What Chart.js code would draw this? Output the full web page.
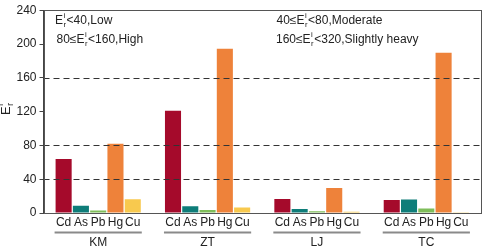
<!DOCTYPE html>
<html lang="en">
  <head>
    <meta charset="UTF-8" />
    <title>Ecological risk index</title>
    <style>
      body { margin: 0; padding: 0; background: #fff; }
      #wrap { width: 484px; height: 248px; }
    </style>
  </head>
  <body>
    <div id="wrap"><canvas id="riskChart" width="484" height="248"></canvas></div>
    <script src="https://cdn.jsdelivr.net/npm/chart.js"></script>
    <script>
      const sites = ["KM", "ZT", "LJ", "TC"];
      const elements = ["Cd", "As", "Pb", "Hg", "Cu"];
      const cdVals = [64, 121, 16.7, 15.5];
      const asVals = [8.5, 8, 4.7, 16];
      const pbVals = [3, 3.5, 2, 5.4];
      const hgVals = [82, 194.5, 29.5, 189.5];
      const cuVals = [16.3, 6.5, 1.5, 0.8];
      const colors = ["#A50A2B", "#0E7D79", "#7FBD5A", "#EE823A", "#F8C94E"];
      const refLines = [40, 80, 160];
      // [prefix, suffix] around the E_r^i symbol
      const notes = [
        ["", "<40,Low"],
        ["40≤", "<80,Moderate"],
        ["80≤", "<160,High"],
        ["160≤", "<320,Slightly heavy"],
      ];

      const FONT = "Liberation Sans, Arial, sans-serif";
      const INK = "#222";

      // draws prefix + E (sup i, sub r) + suffix, left aligned, baseline y
      function drawE(ctx, x, y, prefix, suffix, size) {
        size = size || 12;
        const small = size * 0.65;
        ctx.font = size + "px " + FONT;
        ctx.textBaseline = "alphabetic";
        ctx.textAlign = "left";
        ctx.fillText(prefix, x, y);
        x += ctx.measureText(prefix).width;
        ctx.fillText("E", x, y);
        x += ctx.measureText("E").width + 0.5;
        ctx.font = small + "px " + FONT;
        ctx.fillText("i", x, y - size * 0.5);
        ctx.fillText("r", x, y + size * 0.25);
        x += ctx.measureText("r").width + 0.5;
        ctx.font = size + "px " + FONT;
        ctx.fillText(suffix, x, y);
      }

      const extras = {
        id: "extras",
        afterDatasetsDraw(chart) {
          const { ctx, chartArea: a, scales } = chart;
          const y = scales.y;
          ctx.save();
          ctx.strokeStyle = "#333";
          ctx.lineWidth = 1;
          ctx.setLineDash([6, 4]);
          refLines.forEach((v) => {
            const py = Math.round(y.getPixelForValue(v)) + 0.5;
            ctx.beginPath();
            ctx.moveTo(a.left, py);
            ctx.lineTo(a.right, py);
            ctx.stroke();
          });
          ctx.setLineDash([]);
          // frame
          ctx.strokeStyle = "#555";
          ctx.strokeRect(Math.round(a.left) + 0.5, Math.round(a.top) + 0.5,
            Math.round(a.right - a.left) - 1, Math.round(a.bottom - a.top));
          // minor ticks
          y.ticks.forEach((t) => {
            if (t.value % 40 !== 0) {
              const py = Math.round(y.getPixelForValue(t.value)) + 0.5;
              ctx.beginPath();
              ctx.moveTo(a.left - 2, py);
              ctx.lineTo(a.left, py);
              ctx.stroke();
            }
          });
          ctx.restore();
        },
        afterDraw(chart) {
          const { ctx, chartArea: a } = chart;
          ctx.save();
          ctx.fillStyle = INK;
          // element names under bars
          ctx.font = "12px " + FONT;
          ctx.textAlign = "center";
          ctx.textBaseline = "middle";
          elements.forEach((el, i) => {
            chart.getDatasetMeta(i).data.forEach((bar) => {
              ctx.fillText(el, bar.x, a.bottom + 10);
            });
          });
          // group underline
          const first = chart.getDatasetMeta(0).data;
          const last = chart.getDatasetMeta(elements.length - 1).data;
          ctx.strokeStyle = "#8a8a8a";
          ctx.lineWidth = 2;
          first.forEach((bar, j) => {
            const x0 = bar.x - bar.width / 2 - 1;
            const x1 = last[j].x + last[j].width / 2 + 1;
            ctx.beginPath();
            ctx.moveTo(x0, a.bottom + 19.5);
            ctx.lineTo(x1, a.bottom + 19.5);
            ctx.stroke();
          });
          // threshold notes
          drawE(ctx, 55, 23.5, notes[0][0], notes[0][1]);
          drawE(ctx, 276.5, 23.5, notes[1][0], notes[1][1]);
          drawE(ctx, 56.5, 43, notes[2][0], notes[2][1]);
          drawE(ctx, 276, 43, notes[3][0], notes[3][1]);
          // y title, rotated
          ctx.translate(9.5, 115);
          ctx.rotate(-Math.PI / 2);
          drawE(ctx, 0, 0, "", "", 13);
          ctx.restore();
        },
      };

      const vals = [cdVals, asVals, pbVals, hgVals, cuVals];
      new Chart(document.getElementById("riskChart"), {
        type: "bar",
        data: {
          labels: sites,
          datasets: elements.map((el, i) => ({
            label: el,
            data: vals[i],
            backgroundColor: colors[i],
            categoryPercentage: 0.79,
            barPercentage: 0.93,
          })),
        },
        options: {
          responsive: false,
          animation: false,
          layout: { padding: { top: 6, right: 3, left: 0, bottom: 0 } },
          plugins: { legend: { display: false }, tooltip: { enabled: false } },
          scales: {
            x: {
              grid: { display: false },
              border: { color: "#444", width: 1 },
              ticks: { color: INK, font: { family: FONT, size: 12 }, padding: 14 },
              afterFit: (s) => { s.height = 35; },
            },
            y: {
              min: 0,
              max: 240,
              ticks: {
                stepSize: 20,
                color: INK,
                padding: 3,
                font: { family: FONT, size: 12 },
                callback: (v) => (v % 40 === 0 ? v : ""),
              },
              grid: {
                drawOnChartArea: false,
                tickLength: 4,
                tickColor: (c) => (c.tick && c.tick.value % 40 === 0 ? "#444" : "rgba(0,0,0,0)"),
              },
              border: { color: "#444", width: 1 },
              afterFit: (s) => { s.width = 43.5; },
            },
          },
        },
        plugins: [extras],
      });
    </script>
  </body>
</html>
